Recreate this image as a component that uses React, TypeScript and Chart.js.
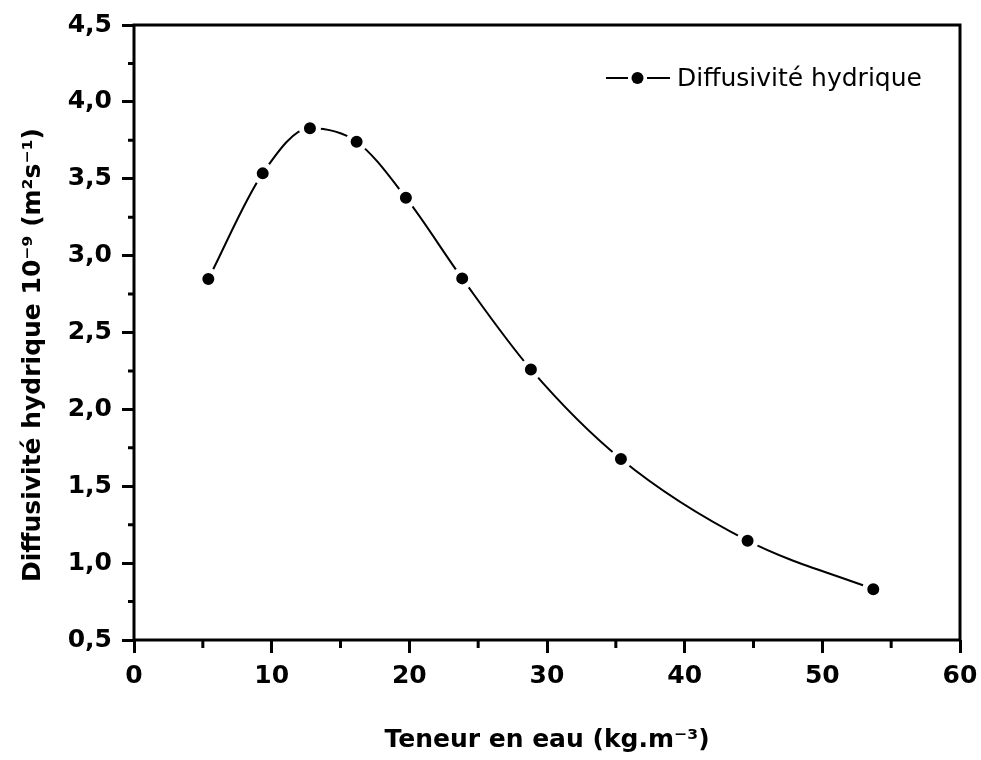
import React, { useEffect, useRef } from 'react';
import { Chart, registerables } from 'chart.js';

Chart.register(...registerables);

// ---- data ----
const waterContent = [5.4, 9.35, 12.78, 16.17, 19.75, 23.84, 28.83, 35.37, 44.57, 53.7];
const diffusivity = [2.848, 3.535, 3.828, 3.741, 3.377, 2.852, 2.26, 1.677, 1.146, 0.83];

const xTicks = [0, 10, 20, 30, 40, 50, 60];
const xMinorTicks = [5, 15, 25, 35, 45, 55];
const yTicks = [0.5, 1.0, 1.5, 2.0, 2.5, 3.0, 3.5, 4.0, 4.5];
const yMinorTicks = [0.75, 1.25, 1.75, 2.25, 2.75, 3.25, 3.75, 4.25];

const seriesLabel = 'Diffusivité hydrique';
const xTitle = 'Teneur en eau (kg.m⁻³)';
const yTitle = 'Diffusivité hydrique 10⁻⁹ (m²s⁻¹)';

const FONT = '"DejaVu Sans", sans-serif';

const decorPlugin = {
  id: 'decor',
  afterDraw(chart: any) {
    const { ctx, chartArea: a, scales } = chart;
    const x = scales.x;
    const y = scales.y;
    ctx.save();
    // frame
    ctx.strokeStyle = '#000';
    ctx.lineWidth = 3;
    ctx.lineJoin = 'miter';
    ctx.strokeRect(a.left, a.top, a.right - a.left, a.bottom - a.top);
    // minor ticks
    ctx.beginPath();
    xMinorTicks.forEach((v) => {
      const px = x.getPixelForValue(v);
      ctx.moveTo(px, a.bottom);
      ctx.lineTo(px, a.bottom + 8);
    });
    yMinorTicks.forEach((v) => {
      const py = y.getPixelForValue(v);
      ctx.moveTo(a.left, py);
      ctx.lineTo(a.left - 6, py);
    });
    ctx.stroke();

    // y-axis title
    ctx.save();
    ctx.translate(33, 355);
    ctx.rotate(-Math.PI / 2);
    ctx.fillStyle = '#000';
    ctx.font = `bold 25px ${FONT}`;
    ctx.textAlign = 'center';
    ctx.textBaseline = 'middle';
    ctx.fillText(yTitle, 0, 0);
    ctx.restore();

    // legend
    const ly = 78;
    ctx.lineWidth = 2;
    ctx.beginPath();
    ctx.moveTo(606, ly);
    ctx.lineTo(628, ly);
    ctx.moveTo(647, ly);
    ctx.lineTo(670, ly);
    ctx.stroke();
    ctx.beginPath();
    ctx.fillStyle = '#000';
    ctx.arc(637.5, ly, 6, 0, Math.PI * 2);
    ctx.fill();
    ctx.font = `25px ${FONT}`;
    ctx.textAlign = 'left';
    ctx.textBaseline = 'alphabetic';
    ctx.fillText(seriesLabel, 677, 86);
    ctx.restore();
  },
};

export default function App() {
  const canvasRef = useRef<HTMLCanvasElement | null>(null);

  useEffect(() => {
    const canvas = canvasRef.current;
    if (!canvas) return;
    const chart = new Chart(canvas, {
      type: 'line',
      data: {
        datasets: [
          {
            label: seriesLabel,
            data: waterContent.map((v, i) => ({ x: v, y: diffusivity[i] })),
            borderColor: '#000',
            borderWidth: 2,
            backgroundColor: '#000',
            pointBackgroundColor: '#000',
            pointBorderColor: '#fff',
            pointBorderWidth: 5,
            pointRadius: 8.5,
            cubicInterpolationMode: 'monotone',
            fill: false,
          },
        ],
      },
      options: {
        responsive: false,
        animation: false,
        events: [],
        layout: { padding: { top: 25, right: 21, bottom: 0, left: 0 } },
        plugins: {
          legend: { display: false },
          tooltip: { enabled: false },
        },
        scales: {
          x: {
            type: 'linear',
            min: 0,
            max: 60,
            afterBuildTicks: (scale: any) => {
              scale.ticks = xTicks.map((v) => ({ value: v }));
            },
            afterFit: (scale: any) => {
              scale.height = 120;
              scale.paddingLeft = 0;
              scale.paddingRight = 0;
            },
            border: { display: false },
            grid: {
              drawOnChartArea: false,
              drawTicks: true,
              tickLength: 13,
              tickWidth: 3,
              tickColor: '#000',
            },
            ticks: {
              color: '#000',
              padding: 8,
              maxRotation: 0,
              font: { family: FONT, size: 25, weight: 'bold' },
              callback: (v: any) => String(v),
            },
            title: {
              display: true,
              text: xTitle,
              color: '#000',
              padding: { top: 0, bottom: 5 },
              font: { family: FONT, size: 25, weight: 'bold' },
            },
          },
          y: {
            type: 'linear',
            min: 0.5,
            max: 4.5,
            afterBuildTicks: (scale: any) => {
              scale.ticks = yTicks.map((v) => ({ value: v }));
            },
            afterFit: (scale: any) => {
              scale.width = 134;
              scale.paddingTop = 0;
              scale.paddingBottom = 0;
            },
            border: { display: false },
            grid: {
              drawOnChartArea: false,
              drawTicks: true,
              tickLength: 12,
              tickWidth: 3,
              tickColor: '#000',
            },
            ticks: {
              color: '#000',
              padding: 10,
              font: { family: FONT, size: 25, weight: 'bold' },
              callback: (v: any) => Number(v).toFixed(1).replace('.', ','),
            },
          },
        },
      },
      plugins: [decorPlugin],
    });
    return () => chart.destroy();
  }, []);

  return (
    <div style={{ position: 'fixed', left: 0, top: 0, width: 981, height: 760, background: '#fff' }}>
      <canvas ref={canvasRef} width={981} height={760} style={{ display: 'block' }} />
    </div>
  );
}
